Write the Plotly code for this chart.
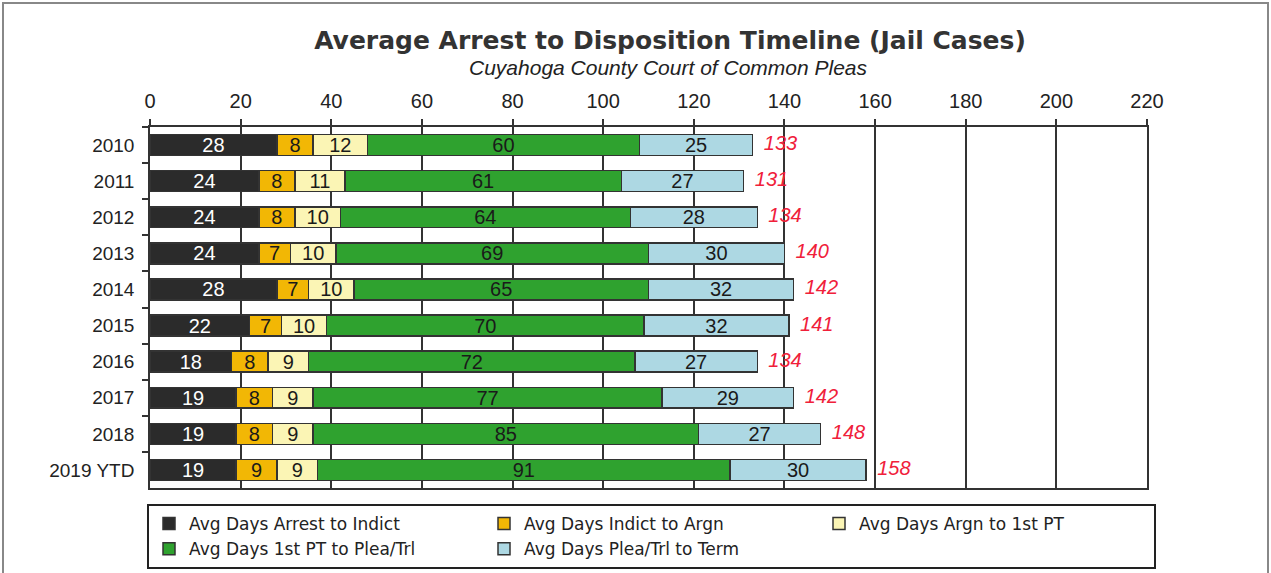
import plotly.graph_objects as go

years = ["2010", "2011", "2012", "2013", "2014", "2015", "2016", "2017", "2018", "2019 YTD"]
arrest_to_indict = [28, 24, 24, 24, 28, 22, 18, 19, 19, 19]
indict_to_argn = [8, 8, 8, 7, 7, 7, 8, 8, 8, 9]
argn_to_1st_pt = [12, 11, 10, 10, 10, 10, 9, 9, 9, 9]
pt_to_plea = [60, 61, 64, 69, 65, 70, 72, 77, 85, 91]
plea_to_term = [25, 27, 28, 30, 32, 32, 27, 29, 27, 30]
totals = [133, 131, 134, 140, 142, 141, 134, 142, 148, 158]

series = [
    ("Avg Days Arrest to Indict", arrest_to_indict, "#2b2b2b", "white"),
    ("Avg Days Indict to Argn", indict_to_argn, "#F2B705", "#1a1a1a"),
    ("Avg Days Argn to 1st PT", argn_to_1st_pt, "#FBF5B5", "#1a1a1a"),
    ("Avg Days 1st PT to Plea/Trl", pt_to_plea, "#2FA22F", "#1a1a1a"),
    ("Avg Days Plea/Trl to Term", plea_to_term, "#ADD8E3", "#1a1a1a"),
]

NARROW = "Liberation Sans Narrow, Liberation Sans, Arial"
FONT = "Liberation Sans, Arial"

fig = go.Figure()
for name, vals, color, tcolor in series:
    fig.add_trace(go.Bar(
        y=years, x=vals, name=name, orientation="h",
        marker=dict(color=color, line=dict(color="#333333", width=1.5)),
        text=vals, textposition="inside", insidetextanchor="middle",
        textangle=0, constraintext="none",
        textfont=dict(family=NARROW, size=20, color=tcolor),
        hoverinfo="x+y+name",
    ))

fig.add_trace(go.Scatter(
    y=years, x=totals, mode="text", text=totals,
    texttemplate="  %{text}",
    textposition="middle right", showlegend=False,
    textfont=dict(family=FONT, size=20, color="#F0203A", style="italic"),
    cliponaxis=False,
))

W, H = 1271, 573
L, R, T, B = 150, 124, 127, 85
pw, ph = W - L - R, H - T - B

fig.update_layout(
    width=W, height=H,
    barmode="stack", bargap=0.42,
    margin=dict(l=L, r=R, t=T, b=B, autoexpand=False),
    paper_bgcolor="white", plot_bgcolor="white",
    uniformtext=dict(minsize=20, mode="show"),
    title=dict(
        text="<b>Average Arrest to Disposition Timeline (Jail Cases)</b>",
        x=670 / W, xanchor="center", y=1 - 40 / H, yanchor="middle",
        font=dict(family="DejaVu Sans", size=25, color="#333333"),
    ),
    annotations=[dict(
        text="<i>Cuyahoga County Court of Common Pleas</i>",
        xref="paper", yref="paper",
        x=(668 - L) / pw, y=1 + (T - 67) / ph,
        xanchor="center", yanchor="middle", showarrow=False,
        font=dict(family=FONT, size=21, color="#222222"),
    )],
    xaxis=dict(
        side="top", range=[0, 220], dtick=20, tick0=0,
        showgrid=True, gridcolor="#333333", gridwidth=1.5,
        showline=True, linecolor="#333333", linewidth=1.5, mirror=True,
        ticks="outside", ticklen=6, tickcolor="#333333", tickwidth=1.5,
        ticklabelstandoff=3, automargin=False,
        tickfont=dict(family=NARROW, size=20, color="#222222"),
        zeroline=False,
    ),
    yaxis=dict(
        autorange="reversed", type="category",
        showline=True, linecolor="#333333", linewidth=1.5, mirror=True,
        ticks="outside", tickson="boundaries", ticklen=6, tickcolor="#333333",
        tickwidth=1.5, ticklabelstandoff=10, automargin=False,
        tickfont=dict(family=NARROW, size=19, color="#222222"),
        showgrid=False,
    ),
    legend=dict(
        orientation="h", x=(147 - L) / pw, xanchor="left",
        y=-(504 - (T + ph)) / ph, yanchor="top",
        entrywidth=290, entrywidthmode="pixels", itemwidth=30,
        bordercolor="#222222", borderwidth=2, bgcolor="white",
        font=dict(family="DejaVu Sans", size=17, color="#222222"),
        traceorder="normal", tracegroupgap=0,
    ),
    shapes=[dict(
        type="rect", xref="paper", yref="paper",
        x0=(3 - L) / pw, x1=(1268 - L) / pw,
        y0=-(H + 5 - (T + ph)) / ph, y1=1 + (T - 3) / ph,
        line=dict(color="#888888", width=2), fillcolor="rgba(0,0,0,0)",
        layer="below",
    )],
)

fig.write_html(
    "out.html",
    config={"displayModeBar": False},
    post_script="document.body.style.margin='0';document.body.style.overflow='hidden';",
)
